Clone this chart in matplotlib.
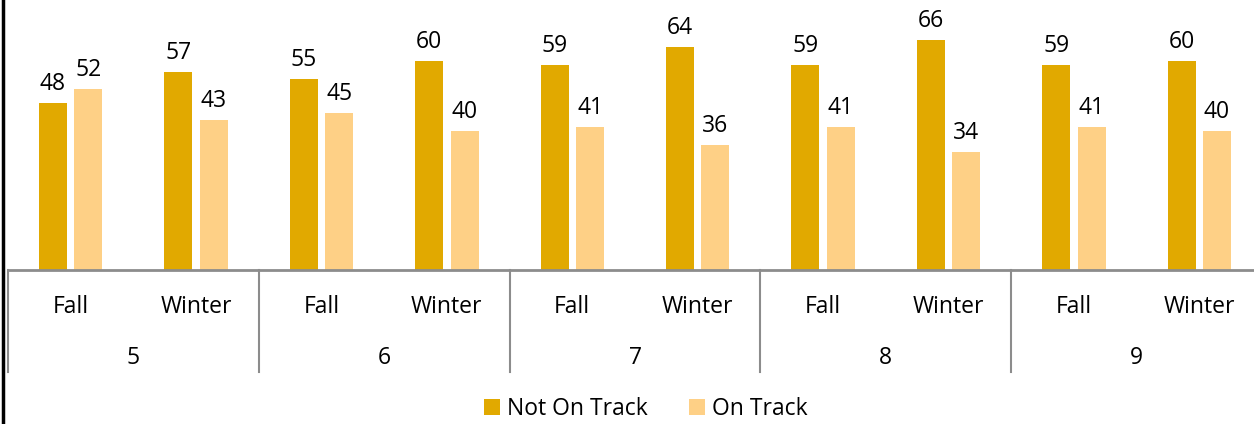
import matplotlib.pyplot as plt
import matplotlib.transforms as mtransforms
import numpy as np

plt.rcParams['font.family'] = ['Open Sans', 'DejaVu Sans']

grades = ['5', '6', '7', '8', '9']
terms = ['Fall', 'Winter']
not_on_track = [48, 57, 55, 60, 59, 64, 59, 66, 59, 60]
on_track = [52, 43, 45, 40, 41, 36, 41, 34, 41, 40]

dark = '#E1A900'
light = '#FED086'
grey = '#8C8C8C'

fig = plt.figure(figsize=(12.54, 4.24), dpi=100)
# plot area runs a bit past the right edge of the picture, as in the original
ax = fig.add_axes([8 / 1254, 154 / 424, 1254 / 1254, 270 / 424])

x = np.arange(len(not_on_track))
w = 0.223
b1 = ax.bar(x - 0.1415, not_on_track, w, color=dark, label='Not On Track')
b2 = ax.bar(x + 0.1415, on_track, w, color=light, label='On Track')
ax.bar_label(b1, padding=5, fontsize=16.5)
ax.bar_label(b2, padding=5, fontsize=16.5)

ax.set_xlim(-0.5, len(x) - 0.5)
ax.set_ylim(0, 77.6)
ax.set_yticks([])
ax.set_xticks([])
for s in ['top', 'right', 'left']:
    ax.spines[s].set_visible(False)
ax.spines['bottom'].set_color(grey)
ax.spines['bottom'].set_linewidth(2)

# two level category axis
trans = mtransforms.blended_transform_factory(ax.transData, ax.transAxes)
for i, xi in enumerate(x):
    ax.text(xi, -0.137, terms[i % 2], transform=trans, ha='center', va='center', fontsize=16.5)
for g, name in enumerate(grades):
    ax.text(2 * g + 0.5, -0.325, name, transform=trans, ha='center', va='center', fontsize=16.5)
for sep in [-0.5, 1.5, 3.5, 5.5, 7.5]:
    ax.plot([sep, sep], [0, -0.378], transform=trans, color=grey, lw=1.5, clip_on=False)

fig.legend(loc='center', bbox_to_anchor=(646 / 1254, 15 / 424), ncol=2, frameon=False,
           fontsize=16.5, handlelength=0.7, handleheight=0.7, handletextpad=0.3, columnspacing=1.8)

# left border
fig.add_artist(plt.Line2D([3 / 1254, 3 / 1254], [0, 1], color='black', lw=2.5))

fig.savefig('out.png', dpi=100)
